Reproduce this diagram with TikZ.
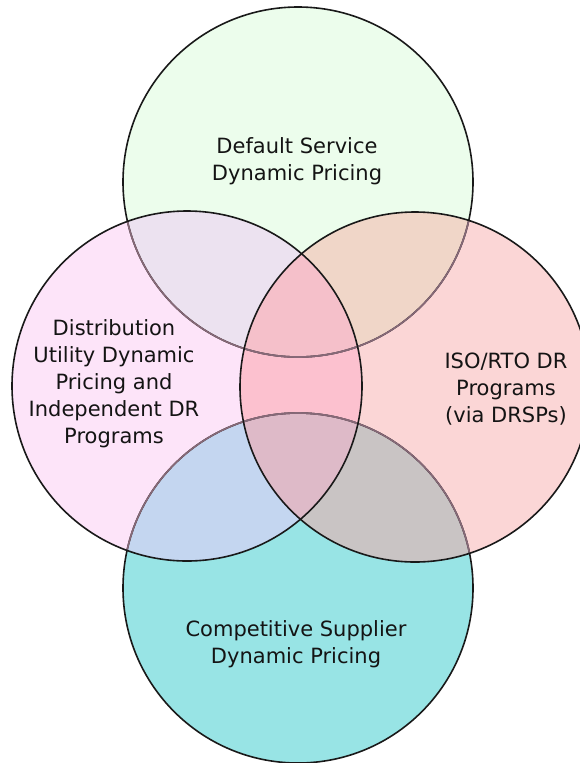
\documentclass[tikz,border=0pt]{standalone}
\usepackage{fontspec}
\setmainfont{DejaVu Sans}
\usetikzlibrary{positioning}

\definecolor{dsgreen}{RGB}{236,253,236}
\definecolor{dupink}{RGB}{253,228,249}
\definecolor{isored}{RGB}{251,214,214}
\definecolor{csteal}{RGB}{152,228,229}
\definecolor{dsdu}{RGB}{236,226,240}
\definecolor{dsiso}{RGB}{240,214,200}
\definecolor{duiso}{RGB}{252,193,207}
\definecolor{ducs}{RGB}{196,214,240}
\definecolor{isocs}{RGB}{201,196,196}
\definecolor{dsduiso}{RGB}{245,192,202}
\definecolor{csduiso}{RGB}{222,186,200}
\definecolor{rimfade}{RGB}{135,105,120}

\begin{document}
\begin{tikzpicture}
		[x=1pt,y=-1pt,
		every node/.style={align=center,font=\fontsize{21}{27}\selectfont,text=black!92},
		rim/.style={draw=black!90,line width=1.6pt},
		fadedrim/.style={draw=rimfade,line width=1.6pt}]
		\clip (0,0) rectangle (580,763);
		\def\rad{175pt}
		\coordinate (ds) at (298,182);
		\coordinate (du) at (187,386);
		\coordinate (iso) at (415,387);
		\coordinate (cs) at (298,588);
		
		% single sets
		\fill[dsgreen] (ds) circle[radius=\rad];
		\fill[csteal] (cs) circle[radius=\rad];
		\fill[dupink] (du) circle[radius=\rad];
		\fill[isored] (iso) circle[radius=\rad];
		
		% overlaps
		\begin{scope}
		\clip (du) circle[radius=\rad];
		\fill[dsdu] (ds) circle[radius=\rad];
		\fill[ducs] (cs) circle[radius=\rad];
		\fill[duiso] (iso) circle[radius=\rad];
		\end{scope}
		\begin{scope}
		\clip (iso) circle[radius=\rad];
		\fill[dsiso] (ds) circle[radius=\rad];
		\fill[isocs] (cs) circle[radius=\rad];
		\end{scope}
		\begin{scope}
		\clip (du) circle[radius=\rad];
		\clip (iso) circle[radius=\rad];
		\fill[dsduiso] (ds) circle[radius=\rad];
		\fill[csduiso] (cs) circle[radius=\rad];
		\end{scope}
		
		% outlines
		\draw[rim] (ds) circle[radius=\rad];
		\draw[rim] (cs) circle[radius=\rad];
		\foreach \c in {du,iso}
		{
		\begin{scope}
		\clip (\c) circle[radius=\rad];
		\draw[fadedrim] (ds) circle[radius=\rad];
		\draw[fadedrim] (cs) circle[radius=\rad];
		\end{scope}
		}
		\draw[rim] (du) circle[radius=\rad];
		\draw[rim] (iso) circle[radius=\rad];
		
		\node (dsText) at (297,161) {Default Service\\Dynamic Pricing};
		\node (duText) at (114,384) {Distribution\\Utility Dynamic\\Pricing and\\Independent DR\\Programs};
		\node (isoText) at (506,389) {ISO/RTO DR\\Programs\\(via DRSPs)};
		\node (csText) at (296,644) {Competitive Supplier\\Dynamic Pricing};
		\end{tikzpicture}
\end{document}
